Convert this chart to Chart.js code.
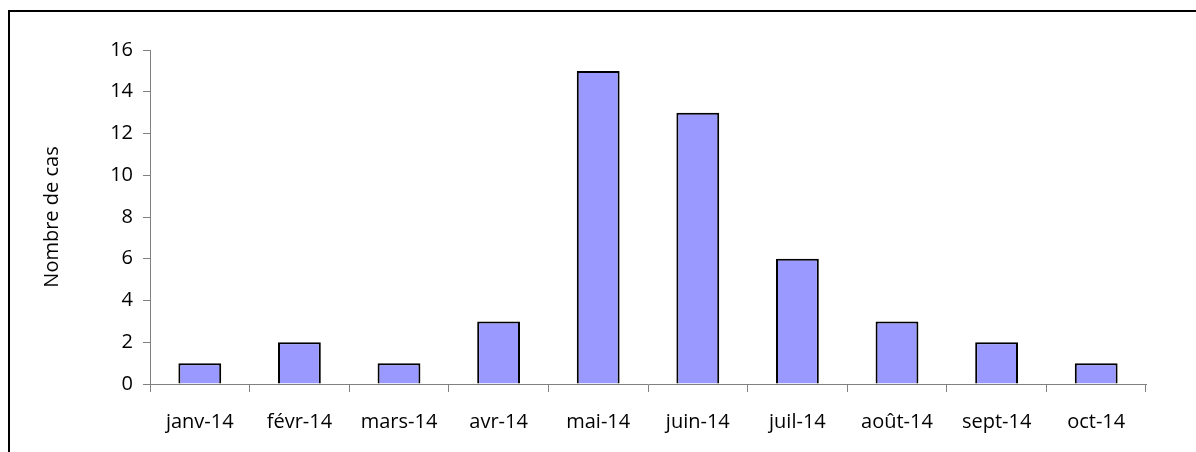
<!DOCTYPE html>
<html lang="fr">
<head>
<meta charset="utf-8">
<title>Nombre de cas par mois</title>
<script src="https://cdn.jsdelivr.net/npm/chart.js@4"></script>
<style>
    html, body { margin: 0; padding: 0; background: #fff; }
    #casChart { display: block; }
</style>
</head>
<body>
<canvas id="casChart" width="1196" height="452"></canvas>
<script>
// Data
const months = ['janv-14', 'févr-14', 'mars-14', 'avr-14', 'mai-14', 'juin-14', 'juil-14', 'août-14', 'sept-14', 'oct-14'];
const caseCounts = [1, 2, 1, 3, 15, 13, 6, 3, 2, 1];
const yTicks = [0, 2, 4, 6, 8, 10, 12, 14, 16];
const yTitle = 'Nombre de cas';

document.addEventListener('DOMContentLoaded', () => {
    initializeCasChart();
});

function initializeCasChart() {
    const axisGrey = '#808080';
    const labelFont = { family: "'Open Sans', sans-serif", size: 20 };

    // Black frame line along the top and left edges
    const framePlugin = {
        id: 'frame',
        beforeDraw(chart) {
            const ctx = chart.ctx;
            ctx.save();
            ctx.fillStyle = '#fff';
            ctx.fillRect(0, 0, chart.width, chart.height);
            ctx.fillStyle = '#000';
            ctx.fillRect(8, 10, chart.width - 8, 2);
            ctx.fillRect(8, 10, 2, chart.height - 10);
            ctx.restore();
        }
    };

    const ctx = document.getElementById('casChart').getContext('2d');
    new Chart(ctx, {
        type: 'bar',
        data: {
            labels: months,
            datasets: [{
                data: caseCounts,
                backgroundColor: '#9999ff',
                borderColor: '#000',
                borderWidth: 2,
                barPercentage: 0.43,
                categoryPercentage: 1
            }]
        },
        options: {
            responsive: false,
            animation: false,
            layout: {
                padding: { left: 40, top: 50, right: 50, bottom: 0 }
            },
            plugins: {
                legend: { display: false },
                tooltip: { enabled: false }
            },
            scales: {
                x: {
                    afterFit: (scale) => { scale.height = 68; },
                    grid: {
                        display: true,
                        drawOnChartArea: false,
                        drawTicks: true,
                        tickLength: 8,
                        color: axisGrey,
                        offset: true
                    },
                    border: { color: axisGrey, width: 1 },
                    ticks: {
                        color: '#000',
                        font: labelFont,
                        padding: 18,
                        maxRotation: 0,
                        autoSkip: false
                    }
                },
                y: {
                    min: 0,
                    max: 16,
                    afterFit: (scale) => { scale.width = 110; },
                    afterBuildTicks: (scale) => {
                        scale.ticks = yTicks.map(v => ({ value: v }));
                    },
                    grid: {
                        display: true,
                        drawOnChartArea: false,
                        drawTicks: true,
                        tickLength: 7,
                        color: axisGrey
                    },
                    border: { color: axisGrey, width: 1 },
                    ticks: {
                        color: '#000',
                        font: labelFont,
                        padding: 10
                    },
                    title: {
                        display: true,
                        text: yTitle,
                        color: '#000',
                        font: labelFont,
                        padding: 0
                    }
                }
            }
        },
        plugins: [framePlugin]
    });
}
</script>
</body>
</html>
